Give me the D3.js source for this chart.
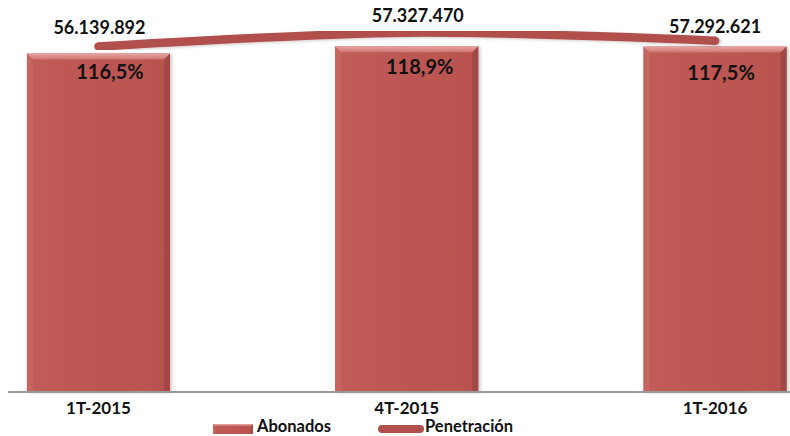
<!DOCTYPE html>
<html>
<head>
<meta charset="utf-8">
<script src="https://cdn.jsdelivr.net/npm/d3@7"></script>
<style>
  html, body { margin: 0; padding: 0; background: #fff; }
  svg { display: block; }
  text { font-family: Lato, "Open Sans", sans-serif; font-weight: 700; fill: #111; }
</style>
</head>
<body>
<svg id="chart" width="790" height="436"></svg>
<script>
// Subscribers per quarter and mobile penetration
const categories = ["1T-2015", "4T-2015", "1T-2016"];
const abonados = [56139892, 57327470, 57292621];
const penetracion = [116.5, 118.9, 117.5];
const legendLabels = ["Abonados", "Penetración"];

// Spanish number formatting: "." for thousands, "," for decimals
const locale = d3.formatLocale({ decimal: ",", thousands: ".", grouping: [3], currency: ["", " €"] });
const fmtInt = locale.format(",d");
const fmtPct = v => locale.format(".1f")(v) + "%";

const W = 790, H = 436;
const baseY = 392;
const svg = d3.select("#chart");

const x = d3.scaleBand().domain(categories)
  .range([-55.7, 869.2]).paddingInner(0.536).paddingOuter(0.268);
const y = d3.scaleLinear().domain([0, 65e6]).range([baseY, 0]);
const y2 = d3.scaleLinear().domain([100, 120]).range([141.9, 26.3]);

const defs = svg.append("defs");
const shadow = defs.append("filter").attr("id", "shadow")
  .attr("x", "-10%").attr("y", "-10%").attr("width", "130%").attr("height", "130%");
shadow.append("feDropShadow").attr("dx", 2).attr("dy", 1).attr("stdDeviation", 1.5)
  .attr("flood-color", "#000").attr("flood-opacity", 0.2);

const topGrad = defs.append("linearGradient").attr("id", "bevelTop")
  .attr("x1", 0).attr("y1", 0).attr("x2", 0).attr("y2", 1);
topGrad.append("stop").attr("offset", "0%").attr("stop-color", "#E6A7A4");
topGrad.append("stop").attr("offset", "100%").attr("stop-color", "#CF7470");

const faceGrad = defs.append("linearGradient").attr("id", "face")
  .attr("x1", 0).attr("y1", 0).attr("x2", 1).attr("y2", 0);
faceGrad.append("stop").attr("offset", "0%").attr("stop-color", "#C05C58");
faceGrad.append("stop").attr("offset", "100%").attr("stop-color", "#B9524E");

// Bevelled box used for the bars and the legend swatch
function bevelBox(g, x0, y0, w, h, b) {
  const x1 = x0 + w, y1 = y0 + h;
  g.append("rect").attr("x", x0).attr("y", y0).attr("width", w).attr("height", h)
    .attr("fill", "url(#face)");
  g.append("polygon").attr("points", [[x0, y0], [x0 + b, y0 + b], [x0 + b, y1], [x0, y1]].join(" "))
    .attr("fill", "#C76561");
  g.append("polygon").attr("points", [[x1, y0], [x1, y1], [x1 - b, y1], [x1 - b, y0 + b]].join(" "))
    .attr("fill", "#A34845");
  g.append("polygon").attr("points", [[x0, y0], [x1, y0], [x1 - b, y0 + b], [x0 + b, y0 + b]].join(" "))
    .attr("fill", "url(#bevelTop)");
}

// Bars
const bars = svg.append("g").attr("filter", "url(#shadow)");
abonados.forEach((v, i) => {
  const g = bars.append("g");
  bevelBox(g, x(categories[i]), y(v), x.bandwidth(), baseY - y(v), 6);
});

// Category axis
const axis = svg.append("g").attr("transform", `translate(0,${baseY})`)
  .call(d3.axisBottom(x).tickSize(0).tickPadding(10));
axis.select(".domain").remove();
axis.selectAll("text").attr("font-size", 17).attr("font-family", "Lato, sans-serif")
  .attr("font-weight", 700).attr("fill", "#111").attr("dy", "0.71em");
svg.append("line").attr("x1", 8).attr("x2", W).attr("y1", baseY).attr("y2", baseY)
  .attr("stroke", "#9a9a9a").attr("stroke-width", 2);

// Penetration line
const cx = c => x(c) + x.bandwidth() / 2;
const line = d3.line().x((d, i) => cx(categories[i])).y(d => y2(d))
  .curve(d3.curveCatmullRom.alpha(0.5));
svg.append("path").datum(penetracion).attr("d", line)
  .attr("fill", "none").attr("stroke", "#B1504D").attr("stroke-width", 8.5)
  .attr("stroke-linecap", "round").attr("filter", "url(#shadow)");

// Value labels
const numNudge = [[1, -12.5], [11, -10.5], [0, -8]];
const pctNudge = [[11.5, 32.5], [13, 41.5], [6, 39]];
abonados.forEach((v, i) => {
  const px = cx(categories[i]), py = y2(penetracion[i]);
  svg.append("text").attr("x", px + numNudge[i][0]).attr("y", py + numNudge[i][1])
    .attr("text-anchor", "middle").attr("font-size", 18).text(fmtInt(v));
  svg.append("text").attr("x", px + pctNudge[i][0]).attr("y", py + pctNudge[i][1])
    .attr("text-anchor", "middle").attr("font-size", 20).text(fmtPct(penetracion[i]));
});

// Legend
const lg = svg.append("g");
bevelBox(lg.append("g"), 213, 424, 40, 10, 2);
lg.append("text").attr("x", 257).attr("y", 432).attr("font-size", 16.5).text(legendLabels[0]);
lg.append("line").attr("x1", 382).attr("x2", 420).attr("y1", 429).attr("y2", 429)
  .attr("stroke", "#B1504D").attr("stroke-width", 8).attr("stroke-linecap", "round");
lg.append("text").attr("x", 425).attr("y", 432).attr("font-size", 16.5).text(legendLabels[1]);
</script>
</body>
</html>
